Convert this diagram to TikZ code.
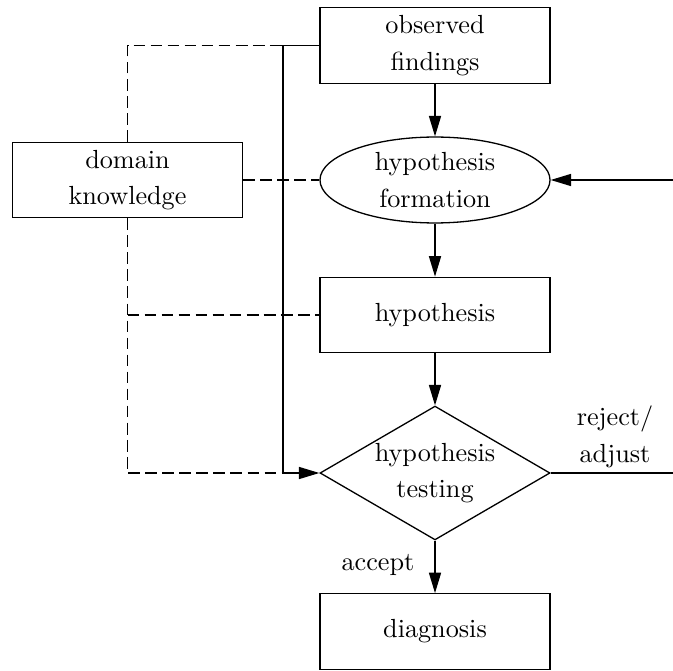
\documentclass[tikz,border=0pt]{standalone}
\usetikzlibrary{shapes.geometric,arrows.meta}
\begin{document}
\begin{tikzpicture}[x=0.3817pt,y=-0.3817pt,
  every node/.style={font=\fontsize{10}{14}\selectfont, align=center},
  line/.style={line width=0.5pt},
  arr/.style={line width=0.5pt,-{Triangle[length=7.8pt,width=4.6pt]}},
  dsh/.style={line width=0.5pt,dash pattern=on 4.5pt off 2pt},
  boxnode/.style={draw,line width=0.5pt,minimum width=87.8pt,minimum height=28.8pt,inner sep=0pt},
  ellnode/.style={draw,ellipse,line width=0.5pt,minimum width=87.8pt,minimum height=32.8pt,inner sep=0pt},
  dianode/.style={draw,diamond,aspect=1.716,line width=0.5pt,minimum width=87.8pt,minimum height=51.1pt,inner sep=0pt}]
\useasboundingbox (0,0) rectangle (673,670);
\node[boxnode] (obs) at (435,45.5) {observed\\findings};
\node[ellnode] (form) at (435,180) {hypothesis\\formation};
\node[boxnode] (hyp) at (435,315) {hypothesis};
\node[dianode] (test) at (435,473) {hypothesis\\testing};
\node[boxnode] (diag) at (435,631.5) {diagnosis};
\node[boxnode] (dom) at (127.5,180) {domain\\knowledge};
\node (acc) at (378,565) {accept};
\node (rej) at (615,437) {reject/\\adjust};
\coordinate (s1) at (283,45.5);
\coordinate (s2) at (283,473);
\coordinate (d1) at (127.5,45.5);
\coordinate (d2) at (127.5,315);
\coordinate (d3) at (127.5,473);
\coordinate (r1) at (700,473);
\coordinate (r2) at (700,180);
% solid connectors
\draw[arr] (obs) -- (form);
\draw[arr] (form) -- (hyp);
\draw[arr] (hyp) -- (test);
\draw[arr] (test) -- (diag);
\draw[line] (obs.west) -- (s1) -- (s2);
\draw[arr] (s2) -- (test.west);
\draw[line] (test.east) -- (r1) -- (r2);
\draw[arr] (r2) -- (form.east);
% dashed connectors
\draw[dsh] (dom.north) -- (d1) -- (obs.west);
\draw[dsh] (dom.east) -- (form.west);
\draw[dsh] (dom.south) -- (d3) -- (s2);
\draw[dsh] (d2) -- (hyp.west);
\end{tikzpicture}
\end{document}
